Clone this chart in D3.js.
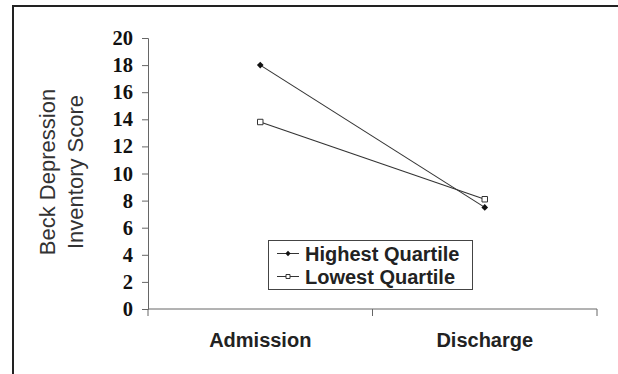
<!DOCTYPE html>
<html>
<head>
<meta charset="utf-8">
<script src="https://cdn.jsdelivr.net/npm/d3@7/dist/d3.min.js"></script>
<style>
  html, body { margin: 0; padding: 0; background: #fff; }
  svg { display: block; }
</style>
</head>
<body>
<svg id="chart" width="618" height="374"></svg>
<script>
const categories = ["Admission", "Discharge"];
const highestQuartile = [18.0, 7.5];
const lowestQuartile = [13.8, 8.1];
const yTicks = [0, 2, 4, 6, 8, 10, 12, 14, 16, 18, 20];
const seriesNames = ["Highest Quartile", "Lowest Quartile"];
const yTitle = ["Beck Depression", "Inventory Score"];

const svg = d3.select("#chart");
const W = 618, H = 374;
const m = { left: 148, right: 597, top: 38, bottom: 309 };

// frame (top and left)
svg.append("path")
  .attr("d", `M13,${H} L13,6 L${W},6`)
  .attr("fill", "none").attr("stroke", "#222").attr("stroke-width", 2);

const x = d3.scaleBand().domain(categories).range([m.left, m.right]);
const y = d3.scaleLinear().domain([0, 20]).range([m.bottom, m.top]);

// Y axis
const yAxis = svg.append("g")
  .attr("transform", `translate(${m.left},0)`)
  .call(d3.axisLeft(y).tickValues(yTicks).tickSize(6).tickPadding(9).tickFormat(d3.format("d")));
yAxis.select(".domain").attr("stroke", "#666");
yAxis.selectAll(".tick line").attr("stroke", "#666");
yAxis.selectAll("text")
  .attr("font-family", "Liberation Serif, Times New Roman, serif")
  .attr("font-weight", "bold").attr("font-size", 20.5).attr("fill", "#111");

// X axis
const xAxis = svg.append("g")
  .attr("transform", `translate(0,${m.bottom})`)
  .call(d3.axisBottom(x).tickSize(0).tickPadding(0).tickFormat(""));
xAxis.select(".domain").attr("stroke", "#666")
  .attr("d", `M${m.left},0H${m.right}`);
xAxis.selectAll(".tick").remove();
const bounds = [m.left, ...categories.slice(1).map(c => x(c)), m.right];
xAxis.selectAll("line.bt").data(bounds).enter().append("line")
  .attr("class", "bt")
  .attr("x1", d => d).attr("x2", d => d).attr("y1", 0).attr("y2", 7)
  .attr("stroke", "#666");

svg.selectAll("text.cat").data(categories).enter().append("text")
  .attr("class", "cat")
  .attr("x", d => x(d) + x.bandwidth() / 2)
  .attr("y", 347)
  .attr("text-anchor", "middle")
  .attr("font-family", "Liberation Sans, Arial, sans-serif")
  .attr("font-weight", "bold").attr("font-size", 20).attr("fill", "#222")
  .text(d => d);

// Y title
const yt = svg.append("text")
  .attr("transform", "translate(0,172) rotate(-90)")
  .attr("text-anchor", "middle")
  .attr("font-family", "Liberation Sans, Arial, sans-serif")
  .attr("font-size", 22).attr("fill", "#333");
yt.selectAll("tspan").data(yTitle).enter().append("tspan")
  .attr("x", 0).attr("y", (d, i) => 55 + i * 28)
  .text(d => d);

const cx = d => x(d) + x.bandwidth() / 2;
const line = d3.line().x(d => cx(d.c)).y(d => y(d.v));

const sHigh = categories.map((c, i) => ({ c, v: highestQuartile[i] }));
const sLow = categories.map((c, i) => ({ c, v: lowestQuartile[i] }));

svg.append("path").datum(sHigh).attr("d", line)
  .attr("fill", "none").attr("stroke", "#333").attr("stroke-width", 1.1);
svg.append("path").datum(sLow).attr("d", line)
  .attr("fill", "none").attr("stroke", "#333").attr("stroke-width", 1.1);

const diamond = d3.symbol().type(d3.symbolSquare).size(22);
const square = d3.symbol().type(d3.symbolSquare).size(30);

svg.selectAll("path.hi").data(sHigh).enter().append("path")
  .attr("class", "hi")
  .attr("transform", d => `translate(${cx(d.c)},${y(d.v)}) rotate(45)`)
  .attr("d", diamond).attr("fill", "#111");
svg.selectAll("path.lo").data(sLow).enter().append("path")
  .attr("class", "lo")
  .attr("transform", d => `translate(${cx(d.c)},${y(d.v)})`)
  .attr("d", square).attr("fill", "#fff").attr("stroke", "#333").attr("stroke-width", 1);

// Legend
const lg = svg.append("g");
lg.append("rect").attr("x", 268.5).attr("y", 240.5).attr("width", 204).attr("height", 49)
  .attr("fill", "#fff").attr("stroke", "#444").attr("stroke-width", 1);
const rows = [
  { name: seriesNames[0], fill: "#111" },
  { name: seriesNames[1], fill: "#fff" }
];
rows.forEach((r, i) => {
  const yy = 253.5 + i * 23;
  lg.append("line").attr("x1", 277).attr("x2", 299).attr("y1", yy).attr("y2", yy)
    .attr("stroke", "#333").attr("stroke-width", 1);
  lg.append("path").attr("transform", `translate(288,${yy})` + (i === 0 ? " rotate(45)" : ""))
    .attr("d", d3.symbol().type(d3.symbolSquare).size(i === 0 ? 14 : 16)())
    .attr("fill", r.fill).attr("stroke", i === 0 ? "none" : "#333");
  lg.append("text").attr("x", 305).attr("y", yy + 7)
    .attr("font-family", "Liberation Sans, Arial, sans-serif")
    .attr("font-weight", "bold").attr("font-size", 20).attr("fill", "#222")
    .text(r.name);
});
</script>
</body>
</html>
